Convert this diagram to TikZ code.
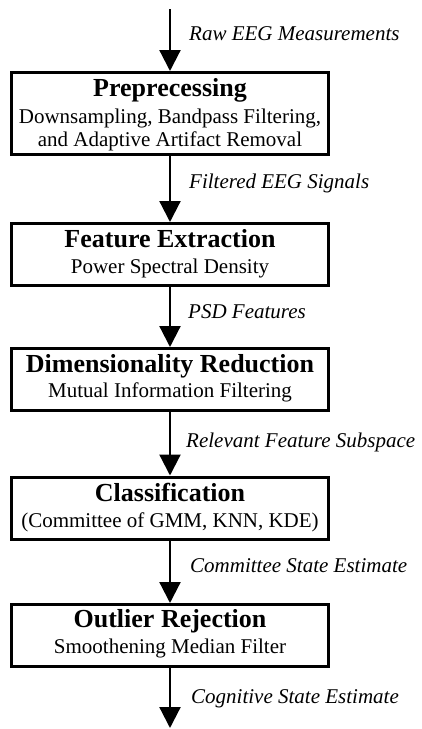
\documentclass[tikz,border=0pt]{standalone}
\usepackage{fontspec}
\setmainfont{Liberation Serif}
\usetikzlibrary{arrows.meta}
\tikzset{
  stage/.style={draw, line width=3pt, minimum width=317pt, minimum height=62pt, inner sep=0pt},
  ttl/.style={anchor=base, inner sep=0pt, font=\fontsize{26}{28}\selectfont\bfseries},
  sub/.style={anchor=base, inner sep=0pt, font=\fontsize{21}{23}\selectfont},
  lbl/.style={anchor=base west, inner sep=0pt, font=\fontsize{21}{23}\selectfont\itshape},
  flow/.style={line width=2.2pt, -{Triangle[length=21pt,width=21pt]}},
}
\begin{document}
\begin{tikzpicture}[x=1pt,y=1pt]
\useasboundingbox (0,0) rectangle (422,-729);
% boxes
\node[stage, minimum height=82pt] (b1) at (170,-113.5) {};
\node[stage] (b2) at (170,-254.5) {};
\node[stage] (b3) at (170,-379.5) {};
\node[stage] (b4) at (170,-508) {};
\node[stage] (b5) at (170,-635.5) {};
% texts in boxes
\node[ttl] (t1) at (170,-96) {Preprecessing};
\node[sub] (s1a) at (170,-123) {Downsampling, Bandpass Filtering,};
\node[sub] (s1b) at (170,-146) {and Adaptive Artifact Removal};
\node[ttl] (t2) at (170,-247) {Feature Extraction};
\node[sub] (s2) at (170,-273) {Power Spectral Density};
\node[ttl] (t3) at (170,-372) {Dimensionality Reduction};
\node[sub] (s3) at (170,-397) {Mutual Information Filtering};
\node[ttl] (t4) at (170,-501) {Classification};
\node[sub] (s4) at (170,-527) {(Committee of GMM, KNN, KDE)};
\node[ttl] (t5) at (170,-627) {Outlier Rejection};
\node[sub] (s5) at (170,-653) {Smoothening Median Filter};
% free ends
\coordinate (top) at (170,-9);
\coordinate (bot) at (170,-728);
% connectors
\draw[flow] (top) -- (b1.north);
\draw[flow] (b1.south) -- (b2.north);
\draw[flow] (b2.south) -- (b3.north);
\draw[flow] (b3.south) -- (b4.north);
\draw[flow] (b4.south) -- (b5.north);
\draw[flow] (b5.south) -- (bot);
% labels
\node[lbl] (l0) at (189,-40) {Raw EEG Measurements};
\node[lbl] (l1) at (189,-188) {Filtered EEG Signals};
\node[lbl] (l2) at (188,-318) {PSD Features};
\node[lbl] (l3) at (186,-447) {Relevant Feature Subspace};
\node[lbl] (l4) at (190,-572) {Committee State Estimate};
\node[lbl] (l5) at (191,-703) {Cognitive State Estimate};
\end{tikzpicture}
\end{document}
